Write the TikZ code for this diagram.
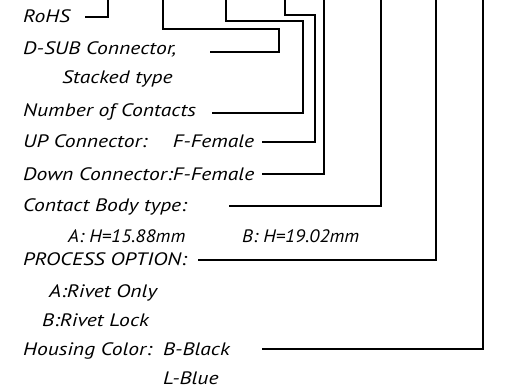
\documentclass[tikz,border=0pt]{standalone}
\usepackage{fontspec}
\setmainfont{PT Sans}[ItalicFeatures={FakeStretch=1.2}]
\newfontfamily\numfont{PT Sans}[UprightFont=*-Italic,FakeStretch=1.08]
\begin{document}
\begin{tikzpicture}[x=1pt,y=-1pt,
  lbl/.style={anchor=base west,inner sep=0pt,font=\fontsize{18}{20}\selectfont\itshape},
  numlbl/.style={anchor=base west,inner sep=0pt,font=\fontsize{18}{20}\selectfont\numfont},
  lead/.style={line width=1.4pt,line join=miter}]
\useasboundingbox (0,0) rectangle (513,390);
\node[lbl] (t1) at (23,23) {RoHS};
\node[lbl] (t2) at (23,55) {D-SUB Connector,};
\node[lbl] (t3) at (62,84) {Stacked type};
\node[lbl] (t4) at (23,117) {Number of Contacts};
\node[lbl] (t5) at (23,148) {\rlap{UP Connector:}\phantom{Down Connector:}F-Female};
\node[lbl] (t6) at (23,180) {Down Connector:F-Female};
\node[lbl] (t7) at (23,211) {Contact Body type:};
\node[numlbl] (t8) at (68,242) {A: H=15.88mm};
\node[numlbl] (t9) at (242,242) {B: H=19.02mm};
\node[lbl] (t10) at (23,265) {PROCESS OPTION:};
\node[lbl] (t11) at (49,297) {A:Rivet Only};
\node[lbl] (t12) at (42,326) {B:Rivet Lock};
\node[lbl] (t13) at (23,355) {Housing Color:};
\node[lbl] (t14) at (163,355) {B-Black};
\node[lbl] (t15) at (163,384) {L-Blue};
% start and free ends
\coordinate (s1) at (85,17);   \coordinate (e1) at (108,0);
\coordinate (s2) at (210,52);  \coordinate (e2) at (163,0);
\coordinate (s3) at (212,113); \coordinate (e3) at (226,0);
\coordinate (s4) at (262,142); \coordinate (e4) at (285,0);
\coordinate (s5) at (262,174); \coordinate (e5) at (324,0);
\coordinate (s6) at (229,206); \coordinate (e6) at (381,0);
\coordinate (s7) at (198,260); \coordinate (e7) at (436,0);
\coordinate (s8) at (262,349); \coordinate (e8) at (483,0);
\draw[lead] (s1) -| (e1);
\draw[lead] (s2) -- ++(69,0) |- (163,29) -- (e2);
\draw[lead] (s3) -- ++(91,0) |- (226,21) -- (e3);
\draw[lead] (s4) -- ++(53,0) |- (285,15) -- (e4);
\draw[lead] (s5) -| (e5);
\draw[lead] (s6) -| (e6);
\draw[lead] (s7) -| (e7);
\draw[lead] (s8) -| (e8);
\end{tikzpicture}
\end{document}
